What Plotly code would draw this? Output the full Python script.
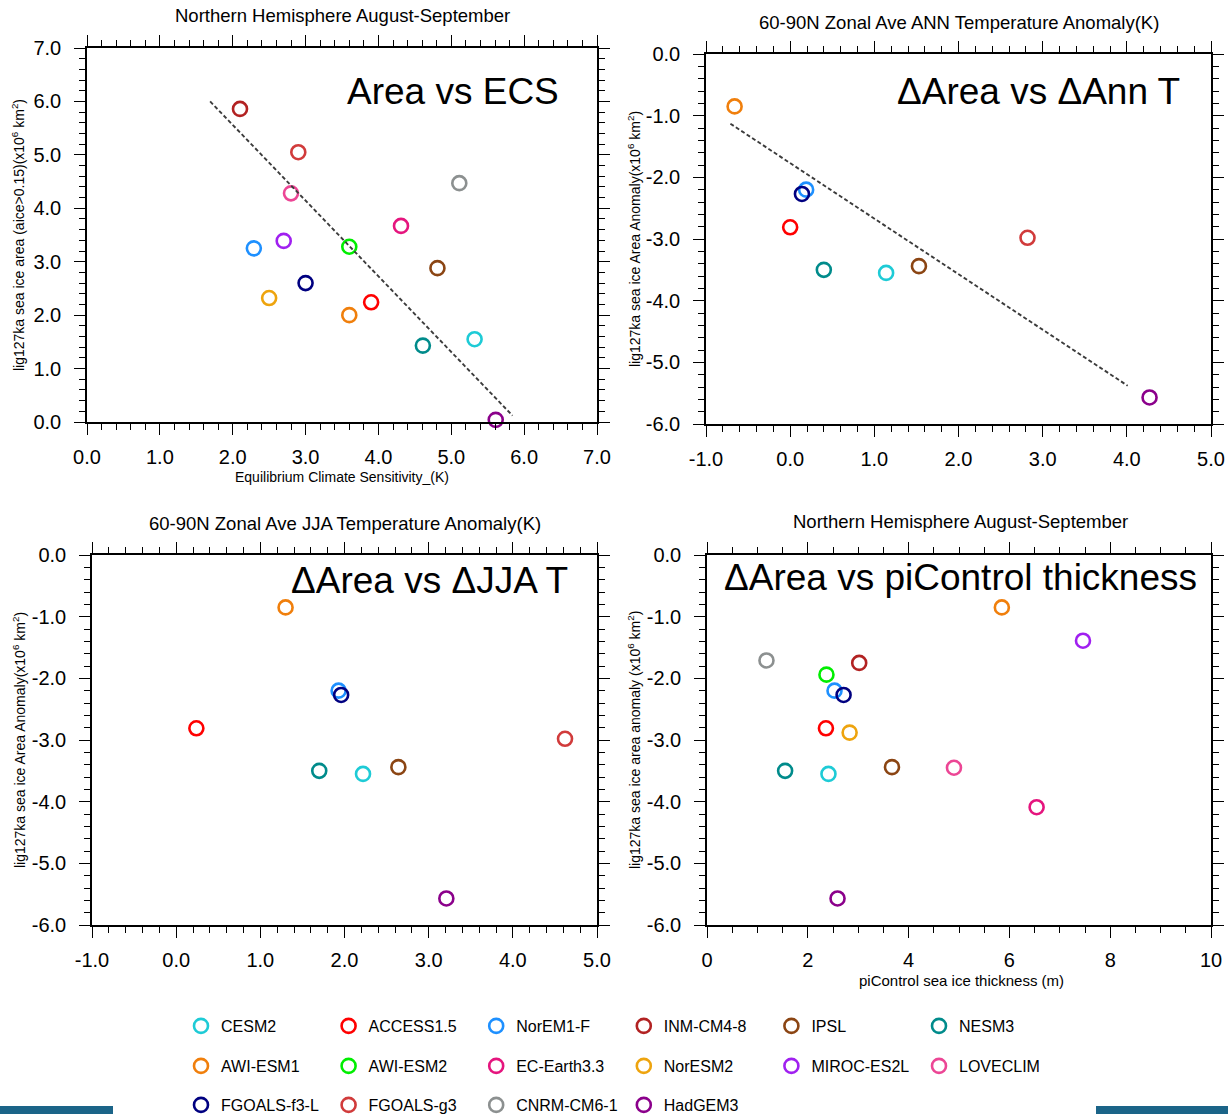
import plotly.graph_objects as go

W, H = 1228, 1114

models = ["CESM2", "ACCESS1.5", "NorEM1-F", "INM-CM4-8", "IPSL", "NESM3",
          "AWI-ESM1", "AWI-ESM2", "EC-Earth3.3", "NorESM2", "MIROC-ES2L", "LOVECLIM",
          "FGOALS-f3-L", "FGOALS-g3", "CNRM-CM6-1", "HadGEM3"]
colors = ["#1ECBD6", "#FF0000", "#1E90FF", "#B22222", "#8B4513", "#008B8B",
          "#F07F0C", "#00EE00", "#E5157E", "#EEA40E", "#A020F0", "#EC4695",
          "#000080", "#D13B3B", "#8C9090", "#8B008B"]
legend_row = [1, 1, 1, 1, 1, 1, 2, 2, 2, 2, 2, 2, 3, 3, 3, 3]

# Panel 1: Equilibrium climate sensitivity vs lig127k sea ice area
ecs = [5.32, 3.90, 2.29, 2.10, 4.81, 4.61, 3.60, 3.60, 4.31, 2.50, 2.70, 2.80, 3.00, 2.90, 5.11, 5.61]
area = [1.55, 2.24, 3.25, 5.86, 2.88, 1.43, 2.00, 3.28, 3.67, 2.32, 3.39, 4.28, 2.60, 5.05, 4.47, 0.04]
# Panels 2-4: sea ice area anomaly
d_area = [-3.55, -2.81, -2.20, -1.75, -3.44, -3.50, -0.85, -1.94, -4.09, -2.88, -1.39, -3.45, -2.27, -2.98, -1.71, -5.57]
dt_ann = [1.14, 0.00, 0.19, None, 1.53, 0.40, -0.66, None, None, None, None, None, 0.14, 2.82, None, 4.27]
dt_jja = [2.22, 0.24, 1.93, None, 2.64, 1.70, 1.30, None, None, None, None, None, 1.96, 4.62, None, 3.21]
thick = [2.41, 2.36, 2.53, 3.02, 3.67, 1.55, 5.85, 2.37, 6.54, 2.83, 7.46, 4.90, 2.71, None, 1.18, 2.59]

# regression lines (end points)
fit_ecs_x = [1.69, 5.84]
fit_ecs_y = [6.00, 0.12]
fit_ann_x = [-0.71, 4.01]
fit_ann_y = [-1.13, -5.38]

# tick labels
ticks_ecs = [0, 1, 2, 3, 4, 5, 6, 7]
ticks_ecs_txt = ["0.0", "1.0", "2.0", "3.0", "4.0", "5.0", "6.0", "7.0"]
ticks_t = [-1, 0, 1, 2, 3, 4, 5]
ticks_t_txt = ["-1.0", "0.0", "1.0", "2.0", "3.0", "4.0", "5.0"]
ticks_anom = [-6, -5, -4, -3, -2, -1, 0]
ticks_anom_txt = ["-6.0", "-5.0", "-4.0", "-3.0", "-2.0", "-1.0", "0.0"]
ticks_thick = [0, 2, 4, 6, 8, 10]
ticks_thick_txt = ["0", "2", "4", "6", "8", "10"]

FONT = "Liberation Sans"
fig = go.Figure()

panels = [(ecs, area, "x", "y", True), (dt_ann, d_area, "x2", "y2", False),
          (dt_jja, d_area, "x3", "y3", False), (thick, d_area, "x4", "y4", False)]
for xs, ys, xa, ya, showleg in panels:
    for i, m in enumerate(models):
        if xs[i] is None:
            continue
        lg = "legend" if legend_row[i] == 1 else "legend%d" % legend_row[i]
        fig.add_trace(go.Scatter(
            x=[xs[i]], y=[ys[i]], xaxis=xa, yaxis=ya, mode="markers", name=m,
            legend=lg, showlegend=showleg, cliponaxis=False,
            marker=dict(symbol="circle-open", size=14, color=colors[i],
                        line=dict(width=2.6, color=colors[i]))))

fig.add_trace(go.Scatter(x=fit_ecs_x, y=fit_ecs_y, xaxis="x", yaxis="y", mode="lines",
                         showlegend=False, line=dict(color="#3C3C3C", width=1.9, dash="4px,2.5px")))
fig.add_trace(go.Scatter(x=fit_ann_x, y=fit_ann_y, xaxis="x2", yaxis="y2", mode="lines",
                         showlegend=False, line=dict(color="#3C3C3C", width=1.9, dash="4px,2.5px")))


def px(v):
    return v / W


def py(v):
    return 1 - v / H


def ax(rng, tv, tt, mdtick, dom, anchor, isx):
    return dict(range=rng, tickmode="array", tickvals=tv, ticktext=tt, domain=dom, anchor=anchor,
                ticks="outside", ticklen=11, tickwidth=1.3, tickcolor="black",
                showline=True, linewidth=1.5, linecolor="black", mirror="ticks",
                showgrid=False, zeroline=False, fixedrange=True,
                minor=dict(ticks="outside", ticklen=6, tickwidth=1.1, tickcolor="black",
                           dtick=mdtick, tick0=rng[0], showgrid=False),
                tickfont=dict(family=FONT, size=20, color="black"),
                ticklabelstandoff=5 if isx else 9)


layout = dict(
    width=W, height=H, margin=dict(l=0, r=0, t=0, b=0, autoexpand=False),
    paper_bgcolor="white", plot_bgcolor="white",
    xaxis=ax([0, 7], ticks_ecs, ticks_ecs_txt, 0.2, [px(87), px(597)], "y", True),
    yaxis=ax([0, 7], ticks_ecs, ticks_ecs_txt, 0.2, [py(422), py(48)], "x", False),
    xaxis2=ax([-1, 5], ticks_t, ticks_t_txt, 0.2, [px(706), px(1211)], "y2", True),
    yaxis2=ax([-6, 0], ticks_anom, ticks_anom_txt, 0.2, [py(424), py(54)], "x2", False),
    xaxis3=ax([-1, 5], ticks_t, ticks_t_txt, 0.2, [px(92), px(597)], "y3", True),
    yaxis3=ax([-6, 0], ticks_anom, ticks_anom_txt, 0.2, [py(925), py(555)], "x3", False),
    xaxis4=ax([0, 10], ticks_thick, ticks_thick_txt, 0.5, [px(707), px(1211)], "y4", True),
    yaxis4=ax([-6, 0], ticks_anom, ticks_anom_txt, 0.2, [py(925), py(555)], "x4", False),
)

leg_common = dict(orientation="h", entrywidth=102.6, entrywidthmode="pixels",
                  font=dict(family=FONT, size=16, color="black"), bgcolor="rgba(0,0,0,0)",
                  itemsizing="trace", xanchor="left", yanchor="middle", tracegroupgap=0,
                  itemclick=False, itemdoubleclick=False)
layout["legend"] = dict(x=px(181), y=py(1026), **leg_common)
layout["legend2"] = dict(x=px(181), y=py(1066), **leg_common)
layout["legend3"] = dict(x=px(181), y=py(1105), **leg_common)

ann = []


def text(x, y, s, size, xanchor="center", angle=0):
    ann.append(dict(x=px(x), y=py(y), xref="paper", yref="paper", text=s, showarrow=False,
                    xanchor=xanchor, yanchor="middle", textangle=angle,
                    font=dict(family=FONT, size=size, color="black")))


# panel titles
text(342, 16, "Northern Hemisphere August-September", 18.5)
text(959, 22, "60-90N Zonal Ave ANN Temperature Anomaly(K)", 18.5)
text(345, 523, "60-90N Zonal Ave JJA Temperature Anomaly(K)", 18.5)
text(960, 522, "Northern Hemisphere August-September", 18.5)
# big labels
text(561, 92, "Area vs ECS", 37, "right")
text(1182, 92, "ΔArea vs ΔAnn T", 37, "right")
text(570, 580, "ΔArea vs ΔJJA T", 37, "right")
text(1199, 578, "ΔArea vs piControl thickness", 37, "right")
# axis titles
text(342, 477, "Equilibrium Climate Sensitivity_(K)", 14)
text(961, 980, "piControl sea ice thickness (m)", 15)
text(18, 235, "lig127ka sea ice area (aice>0.15)(x10<sup>6</sup> km<sup>2</sup>)", 14, angle=-90)
text(634, 239, "lig127ka sea ice Area Anomaly(x10<sup>6</sup> km<sup>2</sup>)", 14, angle=-90)
text(19, 740, "lig127ka sea ice Area Anomaly(x10<sup>6</sup> km<sup>2</sup>)", 14, angle=-90)
text(634, 740, "lig127ka sea ice area anomaly (x10<sup>6</sup> km<sup>2</sup>)", 14, angle=-90)
layout["annotations"] = ann

layout["shapes"] = [
    dict(type="rect", xref="paper", yref="paper", x0=0, x1=px(113), y0=0, y1=py(1106),
         fillcolor="#1B6488", line=dict(width=0), layer="below"),
    dict(type="rect", xref="paper", yref="paper", x0=px(1096), x1=1, y0=0, y1=py(1106),
         fillcolor="#1B6488", line=dict(width=0), layer="below"),
]

fig.update_layout(**layout)
fig.write_html("out.html")
